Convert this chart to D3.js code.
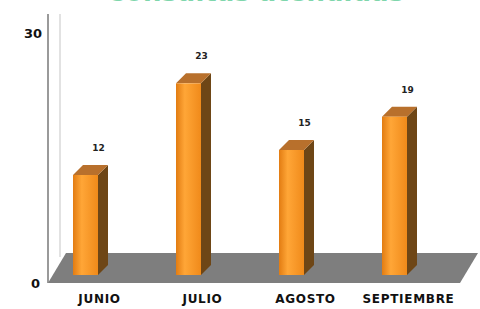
<!DOCTYPE html>
<html>
<head>
<meta charset="utf-8">
<script src="https://cdn.jsdelivr.net/npm/d3@7"></script>
<style>
  body { margin: 0; background: #fff; }
</style>
</head>
<body>
<div id="chart"></div>
<script>
// datos
const meses = ["JUNIO", "JULIO", "AGOSTO", "SEPTIEMBRE"];
const consultas = [12, 23, 15, 19];
const ticks = [0, 30];
const titulo = "Consultas atendidas";

const svgWidth = 480, svgHeight = 309;

const svg = d3.select("#chart").append("svg")
    .attr("width", svgWidth)
    .attr("height", svgHeight);

// escalas (plano frontal del piso)
const x = d3.scaleBand().domain(meses).range([48, 460]);
const y = d3.scaleLinear().domain([0, 30]).range([283, 33]);

// profundidad del piso y de las barras
const floorDx = 18, floorDy = 30;
const barOx = 25, barW = 25, barLift = 8;
const depthX = 10, depthY = 10;

const defs = svg.append("defs");
const grad = defs.append("linearGradient").attr("id", "frente");
grad.append("stop").attr("offset", "0%").attr("stop-color", "#e27c12");
grad.append("stop").attr("offset", "35%").attr("stop-color", "#ffa637");
grad.append("stop").attr("offset", "100%").attr("stop-color", "#f08a1a");

// titulo (cortado arriba, como en el original)
svg.append("text")
    .attr("x", 255).attr("y", 1)
    .attr("text-anchor", "middle")
    .attr("font-family", "DejaVu Sans, sans-serif")
    .attr("font-weight", "bold")
    .attr("font-size", 26)
    .attr("fill", "#7fd6ac")
    .text(titulo);

// pared izquierda
svg.append("line")
    .attr("x1", 48).attr("x2", 48).attr("y1", 14).attr("y2", y(0))
    .attr("stroke", "#9a9a9a").attr("stroke-width", 2);
svg.append("line")
    .attr("x1", 60).attr("x2", 60).attr("y1", 14).attr("y2", y(0) - floorDy + 4)
    .attr("stroke", "#d8d8d8").attr("stroke-width", 1.5);

// piso
const x0 = x.range()[0], x1 = x.range()[1];
svg.append("path")
    .attr("d", `M${x0},${y(0)} L${x1},${y(0)} L${x1 + floorDx},${y(0) - floorDy} L${x0 + floorDx},${y(0) - floorDy} Z`)
    .attr("fill", "#7e7e7e");

// eje y
svg.selectAll(".tick-y")
    .data(ticks)
    .enter().append("text")
    .attr("x", d => d === 0 ? 40 : 42)
    .attr("y", d => y(d))
    .attr("dy", "0.35em")
    .attr("text-anchor", "end")
    .attr("font-family", "DejaVu Sans, sans-serif")
    .attr("font-weight", "bold")
    .attr("font-size", 13)
    .attr("fill", "#111")
    .text(d => d);

// barras
const datos = meses.map((m, i) => ({ mes: m, valor: consultas[i] }));
const bar = svg.selectAll(".bar")
    .data(datos)
    .enter().append("g")
    .attr("transform", d => `translate(${x(d.mes) + barOx}, ${-barLift})`);

// cara lateral
bar.append("path")
    .attr("d", d => `M${barW},${y(d.valor)} L${barW + depthX},${y(d.valor) - depthY} L${barW + depthX},${y(0) - depthY} L${barW},${y(0)} Z`)
    .attr("fill", "#6e4616");

// cara superior
bar.append("path")
    .attr("d", d => `M0,${y(d.valor)} L${depthX},${y(d.valor) - depthY} L${barW + depthX},${y(d.valor) - depthY} L${barW},${y(d.valor)} Z`)
    .attr("fill", "#b8702c");

// cara frontal
bar.append("rect")
    .attr("x", 0)
    .attr("y", d => y(d.valor))
    .attr("width", barW)
    .attr("height", d => y(0) - y(d.valor))
    .attr("fill", "url(#frente)");

// etiquetas de valor
bar.append("text")
    .attr("x", barW / 2 + 13)
    .attr("y", d => y(d.valor) - depthY - 14)
    .attr("text-anchor", "middle")
    .attr("font-family", "DejaVu Sans, sans-serif")
    .attr("font-weight", "bold")
    .attr("font-size", 9)
    .attr("fill", "#222")
    .text(d => d.valor);

// eje x
svg.selectAll(".tick-x")
    .data(meses)
    .enter().append("text")
    .attr("x", d => x(d) + x.bandwidth() / 2)
    .attr("y", 303)
    .attr("text-anchor", "middle")
    .attr("font-family", "DejaVu Sans, sans-serif")
    .attr("font-weight", "bold")
    .attr("font-size", 12)
    .attr("letter-spacing", 0.7)
    .attr("fill", "#111")
    .text(d => d);
</script>
</body>
</html>
